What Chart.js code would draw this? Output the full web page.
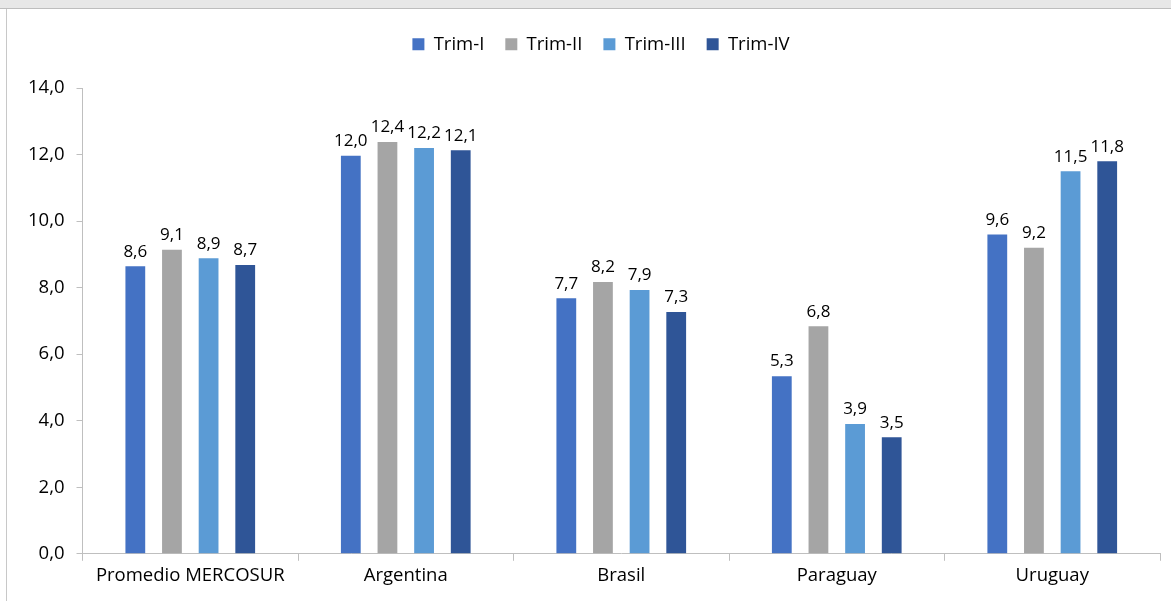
<!DOCTYPE html>
<html>
<head>
<meta charset="utf-8">
<script src="https://cdn.jsdelivr.net/npm/chart.js@4"></script>
<style>
  html, body { margin: 0; padding: 0; background: #fff; }
  #topbar { position: absolute; left: 0; top: 0; width: 1171px; height: 8px; background: #e7e7e7; border-bottom: 1px solid #bdbdbd; }
  #frame { position: absolute; left: 6px; top: 9px; width: 1165px; height: 592px; border-left: 1px solid #c8c8c8; }
  #wrap { position: absolute; left: 0; top: 0; width: 1171px; height: 601px; }
</style>
</head>
<body>
<div id="topbar"></div>
<div id="frame"></div>
<div id="wrap"><canvas id="chart"></canvas></div>
<script>
// datos por trimestre
const paises = ["Promedio MERCOSUR", "Argentina", "Brasil", "Paraguay", "Uruguay"];
const trimI   = [8.64, 11.96, 7.68, 5.34, 9.6];
const trimII  = [9.14, 12.38, 8.17, 6.84, 9.2];
const trimIII = [8.88, 12.2, 7.93, 3.9, 11.5];
const trimIV  = [8.68, 12.13, 7.27, 3.5, 11.8];
const etiquetasY = [0, 2, 4, 6, 8, 10, 12, 14];

const fmt = v => v.toFixed(1).replace(".", ",");
const FONT = "Open Sans";

// valores encima de cada barra
const valueLabels = {
  id: "valueLabels",
  afterDatasetsDraw(chart) {
    const ctx = chart.ctx;
    ctx.save();
    ctx.font = `17px "${FONT}"`;
    ctx.fillStyle = "#000";
    ctx.textAlign = "center";
    ctx.textBaseline = "bottom";
    chart.data.datasets.forEach((ds, i) => {
      chart.getDatasetMeta(i).data.forEach((bar, j) => {
        ctx.fillText(fmt(ds.data[j]), bar.x, bar.y - 6);
      });
    });
    ctx.restore();
  }
};

// alto fijo de la leyenda y un leve corrimiento a la derecha
const legendHeight = {
  id: "legendHeight",
  beforeInit(chart) {
    const fit = chart.legend.fit;
    chart.legend.fit = function () {
      fit.bind(chart.legend)();
      this.height = 74;
    };
  },
  afterLayout(chart) {
    chart.legend.left += 26;
  }
};

const ctx = document.getElementById("chart").getContext("2d");
new Chart(ctx, {
  type: "bar",
  data: {
    labels: paises,
    datasets: [
      { label: "Trim-I",   data: trimI,   backgroundColor: "#4472C4" },
      { label: "Trim-II",  data: trimII,  backgroundColor: "#A5A5A5" },
      { label: "Trim-III", data: trimIII, backgroundColor: "#5B9BD5" },
      { label: "Trim-IV",  data: trimIV,  backgroundColor: "#2F5597" }
    ]
  },
  options: {
    responsive: true,
    maintainAspectRatio: false,
    animation: false,
    categoryPercentage: 0.68,
    barPercentage: 0.54,
    layout: { padding: { left: 16, right: 11, top: 14, bottom: 10 } },
    plugins: {
      legend: {
        position: "top",
        labels: {
          boxWidth: 12, boxHeight: 12, padding: 21,
          color: "#000",
          font: { family: FONT, size: 18.5 }
        }
      },
      tooltip: { enabled: false }
    },
    scales: {
      x: {
        grid: { display: true, offset: true, drawOnChartArea: false, tickLength: 7, color: "#bfbfbf" },
        border: { color: "#bfbfbf" },
        ticks: { color: "#000", font: { family: FONT, size: 18.5 }, padding: 4 }
      },
      y: {
        min: 0, max: 14,
        afterBuildTicks: axis => { axis.ticks = etiquetasY.map(v => ({ value: v })); },
        grid: { display: true, drawOnChartArea: false, tickLength: 6, color: "#bfbfbf" },
        border: { color: "#bfbfbf" },
        ticks: { color: "#000", font: { family: FONT, size: 18.5 }, padding: 12, callback: v => fmt(v) }
      }
    }
  },
  plugins: [valueLabels, legendHeight]
});
</script>
</body>
</html>
